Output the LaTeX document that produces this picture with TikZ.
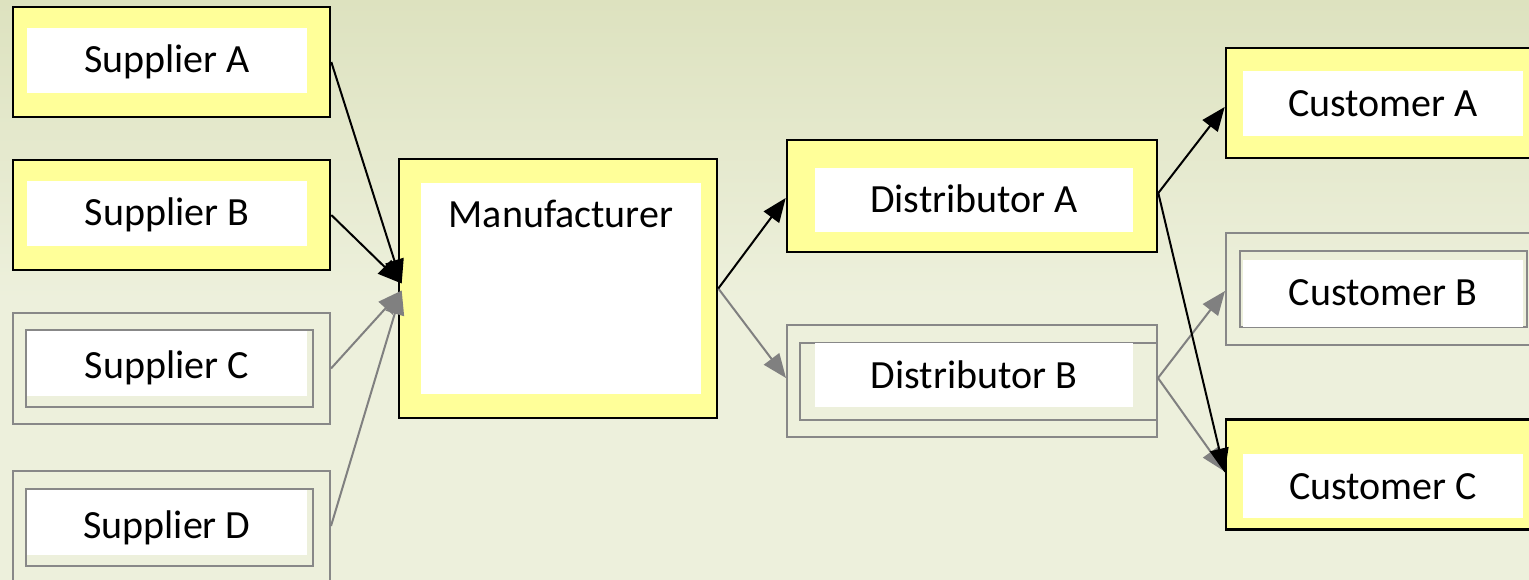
\documentclass[tikz,border=0pt]{standalone}
\usepackage{fontspec}
\setmainfont{Carlito}
\usetikzlibrary{arrows.meta,calc}
\definecolor{bgtop}{RGB}{221,226,191}
\definecolor{bgbot}{RGB}{237,240,220}
\definecolor{boxyellow}{RGB}{255,255,153}
\definecolor{framegrey}{RGB}{136,136,136}
\definecolor{linkgrey}{RGB}{128,128,128}
\tikzset{
  activebox/.style={draw=black, line width=2.6pt, fill=boxyellow, inner sep=0pt},
  idlebox/.style={draw=framegrey, line width=2pt, inner sep=0pt},
  innerframe/.style={draw=framegrey, line width=2pt, inner sep=0pt},
  namepad/.style={fill=white, inner sep=0pt, font=\fontsize{40}{48}\selectfont,
    text height=25pt, text depth=0pt},
  nametext/.style={inner sep=0pt, font=\fontsize{40}{48}\selectfont,
    text height=25pt, text depth=0pt},
  mainlink/.style={draw=black, line width=2pt, -{Triangle[length=24pt,width=19pt]}},
  sidelink/.style={draw=linkgrey, line width=2pt, -{Triangle[length=24pt,width=19pt]}},
}
\begin{document}
\begin{tikzpicture}[x=1pt,y=-1pt]
\useasboundingbox (0,0) rectangle (1529,580);
\clip (0,0) rectangle (1529,580);
% backdrop
\shade[top color=bgtop, bottom color=bgbot] (0,0) rectangle (1529,300);
\fill[bgbot] (0,300) rectangle (1529,580);

% suppliers
\node[activebox, minimum width=317pt, minimum height=110pt] (supA) at (171.5,62) {};
\node[namepad, minimum width=280pt, minimum height=65pt] (supAn) at (167,60.5) {Supplier A};

\node[activebox, minimum width=317pt, minimum height=110pt] (supB) at (171.5,215) {};
\node[namepad, minimum width=280pt, minimum height=65pt] (supBn) at (167,213.5) {Supplier B};

\node[idlebox, minimum width=317pt, minimum height=111pt] (supC) at (171.5,368.5) {};
\node[innerframe, minimum width=287pt, minimum height=77pt] (supCf) at (169.5,368.5) {};
\node[namepad, minimum width=280pt, minimum height=65pt] (supCn) at (167,363.5) {};
\node[nametext] (supCt) at (167,366) {Supplier C};

\node[idlebox, minimum width=317pt, minimum height=110pt] (supD) at (171.5,526) {};
\node[innerframe, minimum width=287pt, minimum height=77pt] (supDf) at (169.5,527.5) {};
\node[namepad, minimum width=280pt, minimum height=65pt] (supDn) at (167,522.5) {};
\node[nametext] (supDt) at (167,526) {Supplier D};

% manufacturer
\node[activebox, minimum width=318pt, minimum height=259pt] (man) at (558,288.5) {};
\node[namepad, minimum width=280pt, minimum height=211pt] (manp) at (561,288.5) {};
\node[nametext] (mant) at (561,215) {Manufacturer};

% distributors
\node[activebox, minimum width=370pt, minimum height=112pt] (distA) at (972,196) {};
\node[namepad, minimum width=318pt, minimum height=64pt] (distAn) at (974,200) {Distributor A};

\node[idlebox, minimum width=370pt, minimum height=112pt] (distB) at (972,381) {};
\node[innerframe, minimum width=357pt, minimum height=77pt] (distBf) at (978.5,381.5) {};
\node[namepad, minimum width=318pt, minimum height=64pt] (distBn) at (974,375) {};
\node[nametext] (distBt) at (974,376) {Distributor B};

% customers (their right edges run off the page)
\node[activebox, minimum width=314pt, minimum height=110pt] (custA) at (1383,103) {};
\node[namepad, minimum width=280pt, minimum height=65pt] (custAn) at (1383,103.5) {};
\node[nametext] (custAt) at (1383,104.5) {Customer A};

\node[idlebox, minimum width=314pt, minimum height=112pt] (custB) at (1383,289) {};
\node[innerframe, minimum width=287pt, minimum height=76pt] (custBf) at (1383.5,289) {};
\node[namepad, minimum width=280pt, minimum height=67pt] (custBn) at (1383,293.3) {};
\node[nametext] (custBt) at (1383,292.6) {Customer B};

\node[activebox, minimum width=314pt, minimum height=110pt] (custC) at (1383,474.5) {};
\node[namepad, minimum width=280pt, minimum height=64pt] (custCn) at (1383,485.7) {};
\node[nametext] (custCt) at (1383,487.4) {Customer C};

% links: optional routes in grey first, then the active chain in black
\draw[sidelink] (supC.east) -- ($(man.west)+(4,2)$);
\draw[sidelink] (supD.east) -- ($(man.west)+(4,2)$);
\draw[sidelink] (man.east) -- ($(distB.west)+(0,-3)$);
\draw[sidelink] ($(distB.east)+(0,-3)$) -- ($(custB.west)+(0,2)$);
\draw[sidelink] ($(distB.east)+(0,-3)$) -- ($(custC.west)+(0,-3)$);

\draw[mainlink] (supA.east) -- ($(man.west)+(4,-5)$);
\draw[mainlink] (supB.east) -- ($(man.west)+(4,-5)$);
\draw[mainlink] (man.east) -- ($(distA.west)+(0,2)$);
\draw[mainlink] ($(distA.east)+(0,-3)$) -- ($(custA.west)+(0,4)$);
\draw[mainlink] ($(distA.east)+(0,-3)$) -- ($(custC.west)+(0,-2)$);
\end{tikzpicture}
\end{document}
